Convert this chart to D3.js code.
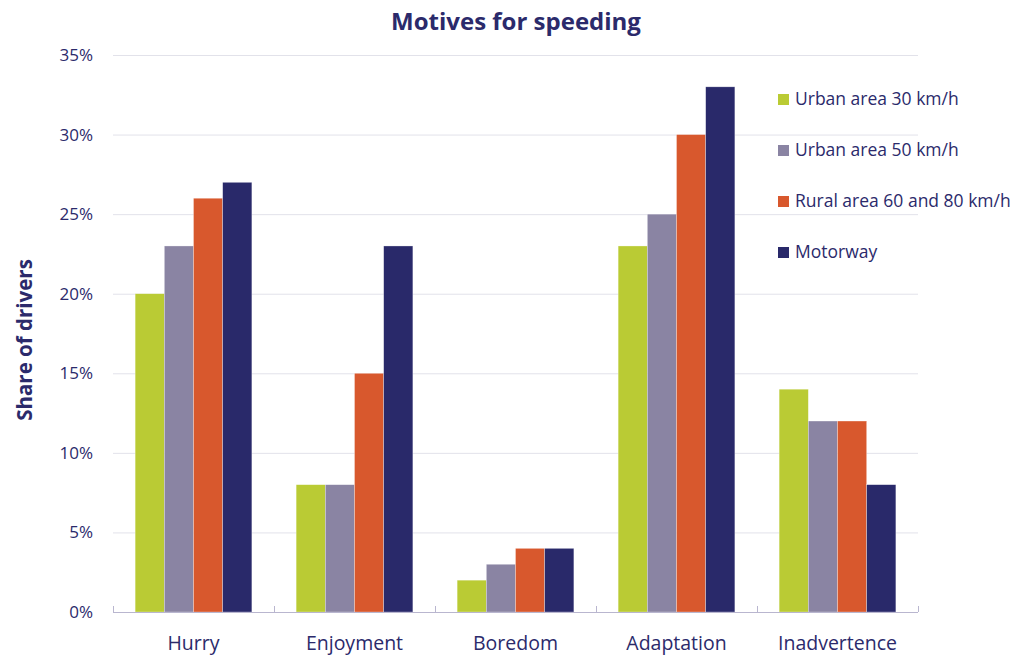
<!DOCTYPE html>
<html>
<head>
<meta charset="utf-8">
<script src="https://cdn.jsdelivr.net/npm/d3@7"></script>
<style>
	body { margin: 0; background: #fff; }
	text { font-family: "Open Sans", Lato, sans-serif; fill: #2b2a6b; }
</style>
</head>
<body>
<script>
var categories = ["Hurry", "Enjoyment", "Boredom", "Adaptation", "Inadvertence"];
var seriesNames = ["Urban area 30 km/h", "Urban area 50 km/h", "Rural area 60 and 80 km/h", "Motorway"];
var urban30 = [20, 8, 2, 23, 14];
var urban50 = [23, 8, 3, 25, 12];
var rural = [26, 15, 4, 30, 12];
var motorway = [27, 23, 4, 33, 8];
var yTicks = [0, 5, 10, 15, 20, 25, 30, 35];
var colors = ["#bacb34", "#8a84a3", "#d8582d", "#29296a"];

var seriesValues = [urban30, urban50, rural, motorway];

var width = 1025, height = 657;
var offset = { left: 113, right: 107, top: 55, bottom: 45 };
var chartWidth = width - offset.left - offset.right;
var chartHeight = height - offset.top - offset.bottom;

function translate(x, y) { return "translate(" + x + "," + y + ")"; }

var svg = d3.select("body").append("svg")
	.attr("width", width)
	.attr("height", height);

var xScale = d3.scaleBand()
	.domain(categories)
	.range([0, chartWidth])
	.paddingInner(0.275)
	.paddingOuter(0.1375);

var innerScale = d3.scaleBand()
	.domain(d3.range(seriesNames.length))
	.range([0, xScale.bandwidth()]);

var yScale = d3.scaleLinear()
	.domain([0, 35])
	.range([chartHeight, 0]);

var chart = svg.append("g").attr("transform", translate(offset.left, offset.top));

// grid rules
chart.selectAll("line.grid")
	.data(yTicks.slice(1)).enter()
	.append("line")
	.attr("class", "grid")
	.attr("x1", 0).attr("x2", chartWidth)
	.attr("y1", function(d){ return yScale(d) + 0.5; })
	.attr("y2", function(d){ return yScale(d) + 0.5; })
	.attr("stroke", "#e2e2ea")
	.attr("stroke-width", 1);

// y tick labels
chart.selectAll("text.ylab")
	.data(yTicks).enter()
	.append("text")
	.attr("class", "ylab")
	.attr("x", -20)
	.attr("y", function(d){ return yScale(d); })
	.attr("dy", "0.35em")
	.attr("text-anchor", "end")
	.style("font-size", "17px")
	.text(function(d){ return d + "%"; });

// bars
var groups = chart.selectAll("g.cat")
	.data(categories).enter()
	.append("g")
	.attr("class", "cat")
	.attr("transform", function(d){ return translate(xScale(d), 0); });

groups.selectAll("rect")
	.data(function(d, i){
		return seriesValues.map(function(s, j){ return { s: j, v: s[i] }; });
	}).enter()
	.append("rect")
	.attr("x", function(d){ return innerScale(d.s); })
	.attr("width", innerScale.bandwidth())
	.attr("y", function(d){ return yScale(d.v); })
	.attr("height", function(d){ return chartHeight - yScale(d.v); })
	.attr("fill", function(d){ return colors[d.s]; })
	.attr("stroke", "rgba(255,255,255,0.5)")
	.attr("stroke-width", 0.6);

// x axis baseline with inner ticks at category boundaries
chart.append("line")
	.attr("x1", 0).attr("x2", chartWidth)
	.attr("y1", chartHeight + 0.5).attr("y2", chartHeight + 0.5)
	.attr("stroke", "#b9b6cf");
var step = xScale.step();
chart.selectAll("line.xtick")
	.data(d3.range(categories.length + 1)).enter()
	.append("line")
	.attr("class", "xtick")
	.attr("x1", function(i){ return Math.round(i * step) + 0.5; })
	.attr("x2", function(i){ return Math.round(i * step) + 0.5; })
	.attr("y1", chartHeight - 6).attr("y2", chartHeight)
	.attr("stroke", "#b9b6cf");

chart.selectAll("text.xlab")
	.data(categories).enter()
	.append("text")
	.attr("class", "xlab")
	.attr("x", function(d){ return xScale(d) + xScale.bandwidth() / 2; })
	.attr("y", chartHeight + 31)
	.attr("dy", "0.35em")
	.attr("text-anchor", "middle")
	.style("font-size", "19.5px")
	.text(function(d){ return d; });

// title
svg.append("text")
	.attr("x", 516).attr("y", 22)
	.attr("dy", "0.35em")
	.attr("text-anchor", "middle")
	.style("font-size", "24px")
	.style("font-weight", "bold")
	.text("Motives for speeding");

// y axis title
svg.append("text")
	.attr("transform", translate(25, 340) + " rotate(-90)")
	.attr("dy", "0.35em")
	.attr("text-anchor", "middle")
	.style("font-size", "20.5px")
	.style("font-weight", "bold")
	.text("Share of drivers");

// legend
var legend = svg.selectAll("g.legend")
	.data(seriesNames).enter()
	.append("g")
	.attr("class", "legend")
	.attr("transform", function(d, i){ return translate(778, 99 + i * 51); });
legend.append("rect")
	.attr("x", 0).attr("y", -5)
	.attr("width", 11).attr("height", 11)
	.attr("fill", function(d, i){ return colors[i]; });
legend.append("text")
	.attr("x", 17).attr("y", 0)
	.attr("dy", "0.35em")
	.style("font-size", "17.5px")
	.text(function(d){ return d; });
</script>
</body>
</html>
